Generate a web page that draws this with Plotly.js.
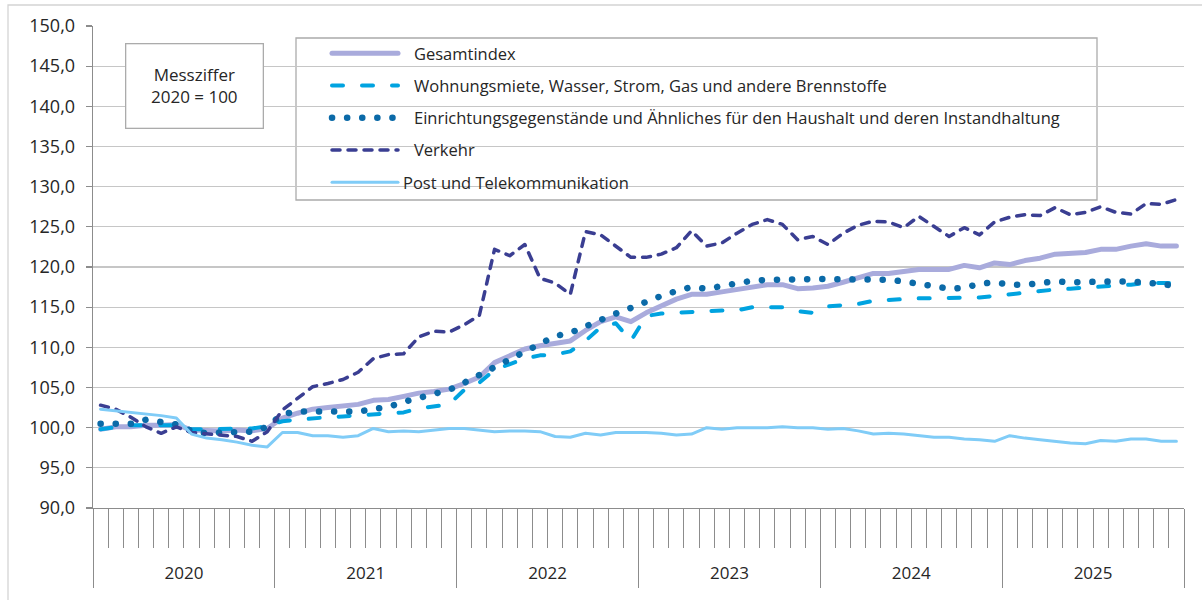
<!DOCTYPE html>
<html><head><meta charset="utf-8">
<script src="https://cdn.plot.ly/plotly-3.0.1.min.js"></script>
<style>
html,body{margin:0;padding:0;background:#fff;}
#chart{width:1202px;height:600px;}
.js-line{stroke-linecap:round;stroke-linejoin:round;}
</style></head><body><div id="chart"></div><script>
const years = ['2020','2021','2022','2023','2024','2025'];
const monthNames = ['01','02','03','04','05','06','07','08','09','10','11','12'];
const months = years.flatMap(y => monthNames.map(m => y + '-' + m));

const seriesNames = [
  'Gesamtindex',
  'Wohnungsmiete, Wasser, Strom, Gas und andere Brennstoffe',
  'Einrichtungsgegenstände und Ähnliches für den Haushalt und deren Instandhaltung',
  'Verkehr',
  'Post und Telekommunikation'
];

const gesamtindex = [
  99.8,100.1,100.1,100.3,100.3,100.4,99.7,99.6,99.6,99.7,99.6,99.9,
  101.2,101.8,102.3,102.5,102.7,102.9,103.4,103.5,103.9,104.3,104.5,104.8,
  105.5,106.3,108.1,108.9,109.8,110.2,110.5,110.8,112.1,113.2,113.8,113.2,
  114.3,115.1,116.0,116.6,116.6,116.9,117.2,117.5,117.8,117.8,117.3,117.4,
  117.6,118.1,118.6,119.2,119.2,119.4,119.7,119.7,119.7,120.2,119.9,120.5,
  120.3,120.8,121.1,121.6,121.7,121.8,122.2,122.2,122.6,122.9,122.6,122.6
];
const wohnung = [
  99.8,100.1,100.3,100.3,100.3,100.3,99.8,99.8,99.8,99.8,99.9,100.2,
  100.8,101.0,101.2,101.3,101.4,101.5,101.6,101.8,101.9,102.4,102.7,102.9,
  104.7,105.6,107.2,107.9,108.6,109.0,109.1,109.5,110.8,112.5,113.0,110.8,
  113.9,114.2,114.3,114.5,114.5,114.6,114.6,115.0,115.0,115.0,114.5,114.3,
  115.1,115.3,115.4,115.8,115.9,116.1,116.1,116.1,116.2,116.2,116.2,116.4,
  116.7,116.9,117.0,117.2,117.3,117.4,117.5,117.7,117.8,118.0,118.0,118.0
];
const einrichtung = [
  100.5,100.5,100.5,101.0,100.7,100.4,99.6,99.3,99.4,99.4,99.5,100.1,
  101.7,102.0,102.0,102.0,102.0,102.0,102.3,102.6,103.2,103.7,104.2,104.7,
  105.6,106.6,107.4,108.4,109.6,110.5,111.4,111.8,112.6,113.6,114.2,114.9,
  115.7,116.4,117.0,117.5,117.3,117.7,118.1,118.3,118.4,118.5,118.5,118.5,
  118.5,118.5,118.4,118.6,118.4,118.2,117.9,117.6,117.3,117.4,117.9,118.1,
  117.8,117.8,118.0,118.2,118.1,118.2,118.3,118.2,118.2,118.1,117.9,117.6
];
const verkehr = [
  102.8,102.3,101.3,100.1,99.3,100.1,99.4,99.2,99.1,98.9,98.3,99.5,
  102.2,103.6,105.1,105.5,106.0,106.9,108.6,109.1,109.2,111.3,112.0,111.9,
  112.8,114.0,122.2,121.4,122.8,118.6,118.0,116.6,124.4,124.0,122.6,121.2,
  121.2,121.6,122.4,124.5,122.6,123.0,124.2,125.3,125.9,125.3,123.4,123.8,
  122.8,124.2,125.2,125.7,125.6,124.9,126.3,125.1,123.8,124.9,124.0,125.6,
  126.2,126.5,126.4,127.4,126.5,126.8,127.5,126.8,126.6,127.9,127.8,128.4
];
const post = [
  102.3,102.1,101.9,101.7,101.5,101.2,99.2,98.7,98.5,98.2,97.8,97.6,
  99.4,99.4,99.0,99.0,98.8,99.0,99.9,99.5,99.6,99.5,99.7,99.9,
  99.9,99.7,99.5,99.6,99.6,99.5,98.9,98.8,99.3,99.1,99.4,99.4,
  99.4,99.3,99.1,99.2,100.0,99.8,100.0,100.0,100.0,100.1,100.0,100.0,
  99.8,99.9,99.6,99.2,99.3,99.2,99.0,98.8,98.8,98.6,98.5,98.3,
  99.0,98.7,98.5,98.3,98.1,98.0,98.4,98.3,98.6,98.6,98.3,98.3
];

const yTicks = [90,95,100,105,110,115,120,125,130,135,140,145,150];

const xIdx = months.map((m, i) => i);
const monthBounds = months.map((m, i) => i - 0.5).concat([months.length - 0.5]);
const yearBounds = years.map((y, k) => k * 12 - 0.5).concat([years.length * 12 - 0.5]);
const yearCenters = years.map((y, k) => k * 12 + 5.5);
const xRange = [-0.5, months.length - 0.5];

const FONT = '"Open Sans", "Noto Sans", sans-serif';
const styles = [
  {color:'#a9abdc', width:5, dash:'solid'},
  {color:'#00a3e0', width:4, dash:'11px,19px'},
  {color:'#0b6aa8', width:6.5, dash:'0.1px,15px'},
  {color:'#3a3e92', width:3.5, dash:'8px,8px'},
  {color:'#80ccf7', width:3, dash:'solid'}
];
// legend label spacing as in the original (last entry sits closer to its sample)
const legendPad = ['\u2002\u2009', '\u2002\u2009', '\u2002\u2009', '\u2002\u2009', ''];
const values = [gesamtindex, wohnung, einrichtung, verkehr, post];

const traces = values.map((v, k) => ({
  type:'scatter', mode:'lines', x:xIdx, y:v, name:legendPad[k] + seriesNames[k],
  legendgroup:'g'+k,
  line:{color:styles[k].color, width:styles[k].width, dash:styles[k].dash, shape:'linear'},
  hoverinfo:'skip'
}));
traces.push({type:'scatter', mode:'lines', x:xRange, y:[null,null], xaxis:'x2', showlegend:false, hoverinfo:'skip'});
traces.push({type:'scatter', mode:'lines', x:xRange, y:[null,null], xaxis:'x3', showlegend:false, hoverinfo:'skip'});

const L = 93, R = 18, T = 26, B = 92;
const W = 1202, H = 600;
const pw = W - L - R, ph = H - T - B;
const px = v => (v - L) / pw;
const py = v => (H - B - v) / ph;

const layout = {
  width:W, height:H,
  margin:{l:L, r:R, t:T, b:B, pad:0},
  paper_bgcolor:'#fff', plot_bgcolor:'#fff',
  separators:',.',
  font:{family:FONT, size:15, color:'#262626'},
  showlegend:true,
  legend:{
    x:px(327), y:py(36), xanchor:'left', yanchor:'top',
    bgcolor:'rgba(0,0,0,0)', borderwidth:0,
    font:{family:FONT, size:16.5, color:'#262626'},
    itemwidth:66, tracegroupgap:7.8, traceorder:'grouped'
  },
  yaxis:{
    range:[90,150], tickvals:yTicks, tickformat:'.1f',
    showgrid:true, gridcolor:'#c6c6c6', gridwidth:1.3,
    showline:true, linecolor:'#8c8c8c', linewidth:1.3,
    ticks:'outside', ticklen:6, tickcolor:'#8c8c8c', tickwidth:1.3,
    zeroline:false, fixedrange:true, ticklabelstandoff:7,
    tickfont:{family:FONT, size:18, color:'#262626'}
  },
  xaxis:{
    range:xRange, tickmode:'array', tickvals:monthBounds,
    showticklabels:false, ticks:'outside', ticklen:39, tickcolor:'#8c8c8c', tickwidth:1,
    showline:true, linecolor:'#8c8c8c', linewidth:1.3,
    showgrid:false, zeroline:false, fixedrange:true
  },
  xaxis2:{
    overlaying:'x', anchor:'y', side:'bottom', range:xRange, tickmode:'array', tickvals:yearBounds,
    showticklabels:false, ticks:'outside', ticklen:79, tickcolor:'#8c8c8c', tickwidth:1,
    showline:false, showgrid:false, zeroline:false, fixedrange:true
  },
  xaxis3:{
    overlaying:'x', anchor:'y', side:'bottom', range:xRange, tickmode:'array',
    tickvals:yearCenters, ticktext:years, ticks:'', ticklabelstandoff:53,
    showline:false, showgrid:false, zeroline:false, fixedrange:true,
    tickfont:{family:FONT, size:17, color:'#262626'}
  },
  shapes:[
    {type:'rect', xref:'paper', yref:'paper', x0:px(8), x1:px(1215), y0:py(612), y1:py(5),
     line:{color:'#d4d4d4', width:1.3}, fillcolor:'rgba(0,0,0,0)', layer:'below'},
    {type:'rect', xref:'paper', yref:'paper', x0:px(296), x1:px(1097), y0:py(200), y1:py(38),
     line:{color:'#ababab', width:1.3}, fillcolor:'#ffffff', layer:'between'}
  ],
  annotations:[
    {xref:'paper', yref:'paper', x:px(194), y:py(85.5), xanchor:'center', yanchor:'middle',
     text:'Messziffer<br>2020 = 100', showarrow:false, align:'center',
     font:{family:FONT, size:17, color:'#262626'},
     bgcolor:'#ffffff', bordercolor:'#ababab', borderwidth:1.3, borderpad:0,
     width:136, height:83}
  ]
};

Plotly.newPlot('chart', traces, layout, {displayModeBar:false, staticPlot:true});
</script></body></html>
